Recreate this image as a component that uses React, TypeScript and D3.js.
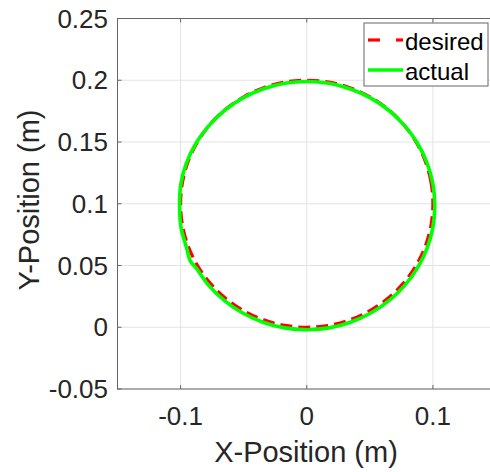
import React from "react";
import * as d3 from "d3";

const desiredX = [0.1, 0.0985, 0.094, 0.0866, 0.0766, 0.0643, 0.05, 0.0342, 0.0174, 0, -0.0174, -0.0342, -0.05, -0.0643, -0.0766, -0.0866, -0.094, -0.0985, -0.1, -0.0985, -0.094, -0.0866, -0.0766, -0.0643, -0.05, -0.0342, -0.0174, 0, 0.0174, 0.0342, 0.05, 0.0643, 0.0766, 0.0866, 0.094, 0.0985];
const desiredY = [0.1, 0.1174, 0.1342, 0.15, 0.1643, 0.1766, 0.1866, 0.194, 0.1985, 0.2, 0.1985, 0.194, 0.1866, 0.1766, 0.1643, 0.15, 0.1342, 0.1174, 0.1, 0.0826, 0.0658, 0.05, 0.0357, 0.0234, 0.0134, 0.006, 0.0015, 0, 0.0015, 0.006, 0.0134, 0.0234, 0.0357, 0.05, 0.0658, 0.0826];

const actualX = [0.1015, 0.1, 0.0954, 0.0879, 0.0777, 0.0652, 0.0508, 0.0347, 0.0176, 0, -0.0176, -0.0347, -0.0508, -0.0652, -0.0777, -0.0879, -0.0954, -0.0998, -0.1008, -0.0997, -0.0952, -0.0922, -0.0879, -0.0777, -0.0652, -0.0508, -0.0347, -0.0176, 0, 0.0176, 0.0347, 0.0508, 0.0652, 0.0777, 0.0879, 0.0954, 0.1];
const actualY = [0.0985, 0.1159, 0.1329, 0.1488, 0.1631, 0.1755, 0.1855, 0.1929, 0.1975, 0.199, 0.1975, 0.1929, 0.1855, 0.1755, 0.1631, 0.1488, 0.1329, 0.1159, 0.0985, 0.0811, 0.0641, 0.0535, 0.0483, 0.0339, 0.0215, 0.0115, 0.0041, -0.0005, -0.002, -0.0005, 0.0041, 0.0115, 0.0215, 0.0339, 0.0483, 0.0641, 0.0811];

const xTicks = [-0.1, 0, 0.1];
const yTicks = [-0.05, 0, 0.05, 0.1, 0.15, 0.2, 0.25];
const xTickLabels = ["-0.1", "0", "0.1"];
const yTickLabels = ["-0.05", "0", "0.05", "0.1", "0.15", "0.2", "0.25"];
const seriesNames = ["desired", "actual"];

const W = 490, H = 472;
const L = 117.5, R = 496, T = 18.5, B = 389;
const FONT = "'Liberation Sans', Arial, sans-serif";
const TXT = "#262626";

export default function App() {
  const x = d3.scaleLinear().domain([-0.15, 0.15]).range([L, R]);
  const y = d3.scaleLinear().domain([-0.05, 0.25]).range([B, T]);
  const line = d3.line<[number, number]>().x(d => x(d[0])).y(d => y(d[1])).curve(d3.curveCatmullRomClosed);
  const des: [number, number][] = desiredX.map((v, i) => [v, desiredY[i]]);
  const act: [number, number][] = actualX.map((v, i) => [v, actualY[i]]);
  return (
    <svg width={W} height={H} style={{ position: "absolute", left: 0, top: 0, background: "#fff" }}>
      <rect x={0} y={0} width={W} height={H} fill="#fff" />
      {xTicks.map(t => (
        <line key={"gx" + t} x1={x(t)} x2={x(t)} y1={T} y2={B} stroke="#e3e3e3" strokeWidth={1} />
      ))}
      {yTicks.map(t => (
        <line key={"gy" + t} x1={L} x2={R} y1={y(t)} y2={y(t)} stroke="#e3e3e3" strokeWidth={1} />
      ))}
      {xTicks.map(t => (
        <g key={"tx" + t}>
          <line x1={x(t)} x2={x(t)} y1={B} y2={B - 4} stroke="#666" />
          <line x1={x(t)} x2={x(t)} y1={T} y2={T + 4} stroke="#666" />
        </g>
      ))}
      {yTicks.map(t => (
        <g key={"ty" + t}>
          <line x1={L} x2={L + 4} y1={y(t)} y2={y(t)} stroke="#666" />
        </g>
      ))}
      <path d={line(des) || ""} fill="none" stroke="#ff0000" strokeWidth={3.2} strokeDasharray="12 6" />
      <path d={line(act) || ""} fill="none" stroke="#00ff00" strokeWidth={3.6} />
      <rect x={L} y={T} width={R - L} height={B - T} fill="none" stroke="#666" strokeWidth={1} />
      {xTicks.map((t, i) => (
        <text key={"lx" + t} x={x(t)} y={425} textAnchor="middle" fontFamily={FONT} fontSize={26} fill={TXT}>{xTickLabels[i]}</text>
      ))}
      {yTicks.map((t, i) => (
        <text key={"ly" + t} x={108} y={y(t) + 9} textAnchor="end" fontFamily={FONT} fontSize={26} fill={TXT}>{yTickLabels[i]}</text>
      ))}
      <text x={306} y={462} textAnchor="middle" fontFamily={FONT} fontSize={29} fill={TXT}>X-Position (m)</text>
      <text transform={`translate(39,200) rotate(-90)`} textAnchor="middle" fontFamily={FONT} fontSize={29} fill={TXT}>Y-Position (m)</text>
      <g>
        <rect x={364} y={23} width={124} height={63} fill="#fff" stroke="#666" strokeWidth={1} />
        <line x1={368} x2={380} y1={40} y2={40} stroke="#ff0000" strokeWidth={3.2} />
        <line x1={396} x2={403} y1={40} y2={40} stroke="#ff0000" strokeWidth={3.2} />
        <line x1={368} x2={403} y1={70} y2={70} stroke="#00ff00" strokeWidth={3.6} />
        <text x={405} y={50} fontFamily={FONT} fontSize={24} fill="#000">{seriesNames[0]}</text>
        <text x={405} y={80} fontFamily={FONT} fontSize={24} fill="#000">{seriesNames[1]}</text>
      </g>
    </svg>
  );
}
